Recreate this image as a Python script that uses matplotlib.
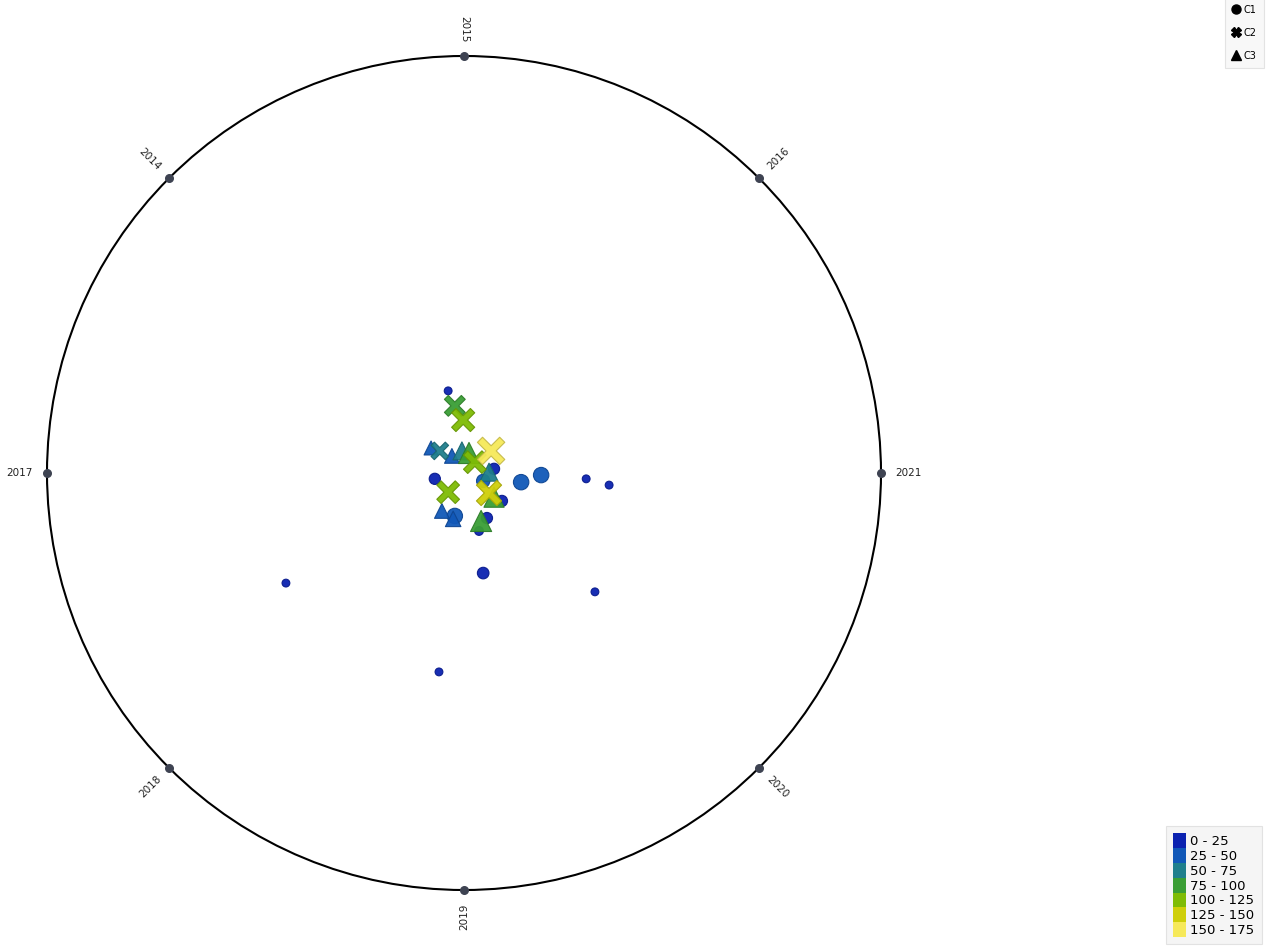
import numpy as np
import matplotlib
matplotlib.use("Agg")
import matplotlib.pyplot as plt
from matplotlib.patches import Circle, Patch
from matplotlib.lines import Line2D
from matplotlib.path import Path

# axis labels going clockwise from the top
years = ["2015", "2016", "2021", "2020", "2019", "2018", "2017", "2014"]

# value bins and their colours
bin_labels = ["0 - 25", "25 - 50", "50 - 75", "75 - 100", "100 - 125", "125 - 150", "150 - 175"]
bin_colors = ["#0b22b0", "#1158b8", "#1f7f8c", "#3a9e35", "#7fbc05", "#cfcf0a", "#f6e95a"]

# C1 (circles): position inside the unit circle + value
c1_x = [-0.038, -0.070, 0.072, 0.185, 0.137, 0.293, 0.348, 0.046, 0.091, -0.022, 0.055, 0.036, 0.046, -0.427, 0.314, -0.060]
c1_y = [0.197, -0.014, 0.010, -0.005, -0.022, -0.014, -0.029, -0.019, -0.067, -0.103, -0.108, -0.139, -0.240, -0.264, -0.285, -0.477]
c1_v = [5, 18, 18, 45, 45, 5, 5, 30, 18, 45, 18, 8, 20, 5, 5, 5]

# C2 (crosses)
c2_x = [-0.058, -0.022, -0.002, 0.026, 0.065, -0.038, 0.060]
c2_y = [0.053, 0.161, 0.127, 0.026, 0.053, -0.046, -0.048]
c2_v = [55, 85, 110, 105, 165, 105, 135]

# C3 (triangles)
c3_x = [-0.079, -0.029, -0.005, 0.012, 0.060, -0.053, -0.026, 0.072, 0.041]
c3_y = [0.060, 0.041, 0.053, 0.048, 0.002, -0.091, -0.110, -0.058, -0.115]
c3_v = [30, 35, 60, 90, 60, 35, 40, 80, 90]

W, H = 1271, 949
R = 417  # circle radius in px
cx, cy = 464, 473

fig = plt.figure(figsize=(W / 100, H / 100), dpi=100)
ax = fig.add_axes([(cx - R) / W, (H - cy - R) / H, 2 * R / W, 2 * R / H])
ax.set_xlim(-1, 1)
ax.set_ylim(-1, 1)
ax.set_aspect("equal")
ax.axis("off")

ax.add_patch(Circle((0, 0), 1, fill=False, lw=1.5, color="black", clip_on=False, zorder=1))

ang = np.deg2rad(90 - 45 * np.arange(len(years)))
ax.scatter(np.cos(ang), np.sin(ang), s=30, color="#3e4352", clip_on=False, zorder=2)
for a, y in zip(np.rad2deg(ang), years):
    a = (a + 180) % 360 - 180
    if a >= 90:
        rot = a - 180
    elif a <= -90:
        rot = a + 180
    else:
        rot = a
    r = 1.065
    ax.text(r * np.cos(np.deg2rad(a)), r * np.sin(np.deg2rad(a)), y, rotation=rot,
            rotation_mode="anchor", ha="center", va="center", fontsize=7.5, color="#222222")

# thinner cross than matplotlib's "X"
w = 0.23
plus = np.array([(w, 1), (-w, 1), (-w, w), (-1, w), (-1, -w), (-w, -w), (-w, -1),
                 (w, -1), (w, -w), (1, -w), (1, w), (w, w), (w, 1)])
c, s_ = np.cos(np.pi / 4), np.sin(np.pi / 4)
xpts = plus @ np.array([[c, s_], [-s_, c]])
cross = Path(xpts, closed=True)


def colour(v):
    return bin_colors[min(int(v // 25), len(bin_colors) - 1)]


def size(v):
    d = 4 + 1.7 * np.sqrt(np.array(v))  # px diameter
    return (d * 0.72) ** 2


def edge(cols):
    return [np.array(matplotlib.colors.to_rgb(c)) * 0.8 for c in cols]


# draw bigger markers first so small ones stay visible
for xs, ys, vs, m, k in [(c1_x, c1_y, c1_v, "o", 1.0), (c3_x, c3_y, c3_v, "^", 1.1), (c2_x, c2_y, c2_v, cross, 1.12)]:
    cols = [colour(v) for v in vs]
    ax.scatter(xs, ys, s=size(vs) * k, c=cols, marker=m, edgecolors=edge(cols),
               linewidths=0.8, zorder=3, alpha=0.95)

# shape legend, top right
shape_handles = [
    Line2D([], [], ls="", marker="o", color="black", markersize=6.5),
    Line2D([], [], ls="", marker="X", color="black", markersize=6.5),
    Line2D([], [], ls="", marker="^", color="black", markersize=6.5),
]
leg1 = fig.legend(shape_handles, ["C1", "C2", "C3"], loc="upper right",
                  bbox_to_anchor=(0.998, 1.008), fontsize=7, frameon=True,
                  handlelength=0.8, handletextpad=0.3, labelspacing=1.35,
                  borderpad=0.75, fancybox=False, edgecolor="#dddddd", facecolor="#f7f7f7")
leg1.get_frame().set_linewidth(0.8)

# colour legend, bottom right
col_handles = [Patch(facecolor=c, edgecolor="none") for c in bin_colors]
leg2 = fig.legend(col_handles, bin_labels, loc="lower right",
                  bbox_to_anchor=(0.998, -0.002), fontsize=9.5, frameon=True,
                  handlelength=0.95, handleheight=1.35, handletextpad=0.35,
                  labelspacing=0.0, borderpad=0.55, fancybox=False,
                  edgecolor="#dddddd", facecolor="#f3f3f3")
leg2.get_frame().set_linewidth(0.8)

fig.savefig("out.png", dpi=100)
